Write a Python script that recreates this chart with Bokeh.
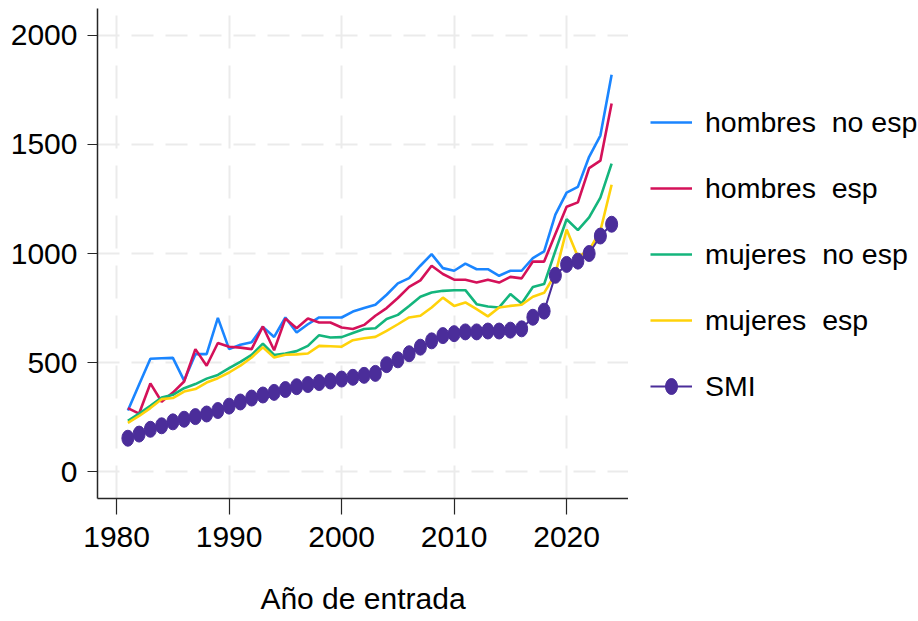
from bokeh.plotting import figure
from bokeh.models import Range1d, FixedTicker, Legend, LegendItem
from bokeh.layouts import row
from bokeh.embed import file_html
from bokeh.resources import INLINE

years = list(range(1981, 2025))

hombres_no_esp = [281, 400, 518, 520, 522, 418, 539, 539, 705, 562, 582, 594, 664, 618, 707,
                  638, 676, 707, 707, 707, 734, 750, 765, 811, 863, 887, 944, 997, 933, 921,
                  954, 928, 928, 898, 921, 921, 979, 1010, 1178, 1279, 1305, 1443, 1540, 1819]
hombres_esp = [292, 267, 405, 321, 363, 414, 562, 486, 590, 573, 569, 562, 666, 557, 702,
               658, 702, 684, 684, 661, 654, 673, 715, 750, 796, 847, 877, 944, 906, 880,
               880, 867, 880, 867, 893, 886, 963, 963, 1089, 1214, 1234, 1391, 1425, 1687]
mujeres_no_esp = [234, 267, 302, 340, 353, 383, 402, 427, 444, 475, 504, 536, 587, 535, 542,
                  553, 577, 626, 615, 617, 636, 654, 658, 700, 719, 760, 802, 821, 829, 832,
                  832, 768, 757, 753, 814, 771, 847, 860, 1012, 1157, 1107, 1165, 1256, 1412]
mujeres_esp = [224, 256, 292, 333, 338, 368, 379, 409, 429, 455, 486, 524, 571, 524, 536,
               538, 542, 577, 575, 573, 603, 612, 618, 646, 676, 707, 715, 753, 798, 760,
               776, 745, 712, 753, 760, 765, 802, 820, 906, 1110, 985, 1015, 1104, 1315]
smi = [154, 173, 195, 211, 229, 241, 253, 265, 281, 301, 320, 338, 352, 364, 377,
       390, 400, 409, 416, 425, 433, 442, 451, 491, 513, 541, 571, 600, 624, 633,
       641, 641, 645, 645, 649, 655, 708, 736, 900, 950, 965, 1000, 1080, 1134]

labels = ["hombres  no esp", "hombres  esp", "mujeres  no esp", "mujeres  esp", "SMI"]
colors = ["#1A85FF", "#D41159", "#14B57C", "#FFD20A", "#4B2D9A"]
x_ticks = [1980, 1990, 2000, 2010, 2020]
y_ticks = [0, 500, 1000, 1500, 2000]

FONT = "Liberation Sans"
series = [hombres_no_esp, hombres_esp, mujeres_no_esp, mujeres_esp]

# ---------------- main chart ----------------
p = figure(width=628, height=621, output_backend="svg", toolbar_location=None,
           x_range=Range1d(1978.3, 2025.5), y_range=Range1d(-122, 2122),
           min_border_left=97, min_border_right=0, min_border_top=8,
           min_border_bottom=123)
p.outline_line_color = None
p.background_fill_color = "white"

for ax, ticks in ((p.xaxis, x_ticks), (p.yaxis, y_ticks)):
    ax.ticker = FixedTicker(ticks=ticks)
    ax.major_label_text_font = FONT
    ax.major_label_text_font_size = "30px"
    ax.major_label_text_color = "#000000"
    ax.axis_line_color = "#262626"
    ax.axis_line_width = 1.5
    ax.major_tick_line_color = "#262626"
    ax.major_tick_line_width = 1.2
    ax.major_tick_in = 0
    ax.minor_tick_in = 0
    ax.minor_tick_out = 0

p.xaxis.major_tick_out = 16
p.yaxis.major_tick_out = 10
p.xaxis.major_label_standoff = 12
p.yaxis.major_label_standoff = 10
p.xaxis.axis_label = "Año de entrada"
p.xaxis.axis_label_text_font = FONT
p.xaxis.axis_label_text_font_size = "30px"
p.xaxis.axis_label_text_font_style = "normal"
p.xaxis.axis_label_text_color = "#000000"
p.xaxis.axis_label_standoff = 32

p.xgrid.ticker = FixedTicker(ticks=x_ticks)
p.ygrid.ticker = FixedTicker(ticks=y_ticks)
p.xgrid.grid_line_color = "#ebebeb"
p.ygrid.grid_line_color = "#ebebeb"
p.xgrid.grid_line_width = 2
p.ygrid.grid_line_width = 2
p.xgrid.grid_line_dash = "33 17"
p.ygrid.grid_line_dash = "22 12"

for col, vals in zip(colors[:4], series):
    p.line(years, vals, line_color=col, line_width=2.6)
p.line(years, smi, line_color=colors[4], line_width=2)
p.ellipse(x=years, y=smi, width=12, height=16, width_units="screen",
          height_units="screen", fill_color=colors[4], line_color=colors[4])

# ---------------- legend panel (same data, out of its view range) ----------------
q = figure(width=290, height=621, output_backend="svg", toolbar_location=None,
           x_range=Range1d(0, 1), y_range=Range1d(0, 1),
           min_border_left=0, min_border_right=0, min_border_top=8,
           min_border_bottom=123)
q.axis.visible = False
q.grid.visible = False
q.outline_line_color = None

items = []
for lab, col, vals in zip(labels[:4], colors[:4], series):
    r = q.line(years, vals, line_color=col, line_width=2.6)
    items.append(LegendItem(label=lab, renderers=[r]))
ql = q.line(years, smi, line_color=colors[4], line_width=2)
qe = q.ellipse(x=years, y=smi, width=12, height=16, width_units="screen",
               height_units="screen", fill_color=colors[4], line_color=colors[4])
items.append(LegendItem(label=labels[4], renderers=[ql, qe]))

legend = Legend(items=items, location=(22, 92), glyph_width=42, glyph_height=20,
                label_height=40, spacing=26, label_standoff=13, padding=0, margin=0,
                border_line_color=None, background_fill_alpha=0,
                label_text_font=FONT, label_text_font_size="28.5px",
                label_text_color="#000000")
q.add_layout(legend, "center")

layout = row(p, q, spacing=0)
open("out.html", "w").write(file_html(layout, INLINE))
